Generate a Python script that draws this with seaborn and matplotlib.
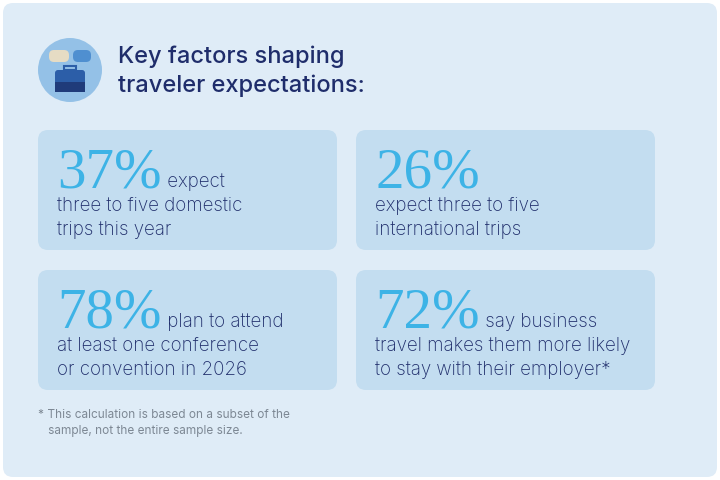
import matplotlib
matplotlib.use("Agg")
import matplotlib.pyplot as plt
import seaborn as sns
from matplotlib.patches import FancyBboxPatch, Circle, Rectangle

sns.set_theme(style="white")
plt.rcParams['font.family'] = ['Inter', 'DejaVu Sans']

title_lines = ["Key factors shaping", "traveler expectations:"]
percents = ["37%", "26%", "78%", "72%"]
first_words = [" expect", "", " plan to attend", " say business"]
rest_lines = [
    ["three to five domestic", "trips this year"],
    ["expect three to five", "international trips"],
    ["at least one conference", "or convention in 2026"],
    ["travel makes them more likely", "to stay with their employer*"],
]
footnote = ["* This calculation is based on a subset of the",
            "   sample, not the entire sample size."]

navy = "#1f2d6b"
cyan = "#3db3e6"
card_col = "#c3ddf0"

fig = plt.figure(figsize=(7.2, 4.8), dpi=100)
ax = fig.add_axes([0, 0, 1, 1])
ax.set_xlim(0, 720)
ax.set_ylim(480, 0)
ax.axis("off")
fig.patch.set_facecolor("white")

ax.add_patch(FancyBboxPatch((3, 3), 714, 474, boxstyle="round,pad=0,rounding_size=10",
                            fc="#dfecf7", ec="none"))

# icon
ax.add_patch(Circle((70, 70), 32, fc="#94c1e7", ec="none"))
ax.add_patch(FancyBboxPatch((49, 50), 20, 12, boxstyle="round,pad=0,rounding_size=5", fc="#e6dcc4", ec="none"))
ax.add_patch(FancyBboxPatch((73, 50), 18, 12, boxstyle="round,pad=0,rounding_size=5", fc="#4f8fd0", ec="none"))
ax.add_patch(FancyBboxPatch((55, 70), 30, 22, boxstyle="round,pad=0,rounding_size=3", fc="#2c5ea8", ec="none"))
ax.add_patch(Rectangle((55, 82), 30, 10, fc="#1f3b7a", ec="none"))
ax.add_patch(Rectangle((64, 66), 12, 4, fc="none", ec="#2c5ea8", lw=1.5))

for i, line in enumerate(title_lines):
    ax.text(118, 63 + i * 29, line, fontsize=17, fontweight="medium", color=navy, va="baseline")

cards = [(38, 130), (356, 130), (38, 270), (356, 270)]
fig.canvas.draw()
renderer = fig.canvas.get_renderer()
for (x, y), pct, fw, rest in zip(cards, percents, first_words, rest_lines):
    ax.add_patch(FancyBboxPatch((x, y), 299, 120, boxstyle="round,pad=0,rounding_size=10",
                                fc=card_col, ec="none"))
    t = ax.text(x + 19, y + 57, pct, fontsize=41, family=["Liberation Serif"],
                color=cyan, va="baseline")
    bb = t.get_window_extent(renderer)
    if fw:
        ax.text(bb.x1, y + 57, fw, fontsize=13.5, fontweight="light", color=navy, va="baseline")
    for j, line in enumerate(rest):
        ax.text(x + 19, y + 81 + j * 24, line, fontsize=13.5, fontweight="light",
                color=navy, va="baseline")

for i, line in enumerate(footnote):
    ax.text(38, 418 + i * 16, line, fontsize=8.5, color="#7d8894", va="baseline")

fig.savefig("out.png", dpi=100)
